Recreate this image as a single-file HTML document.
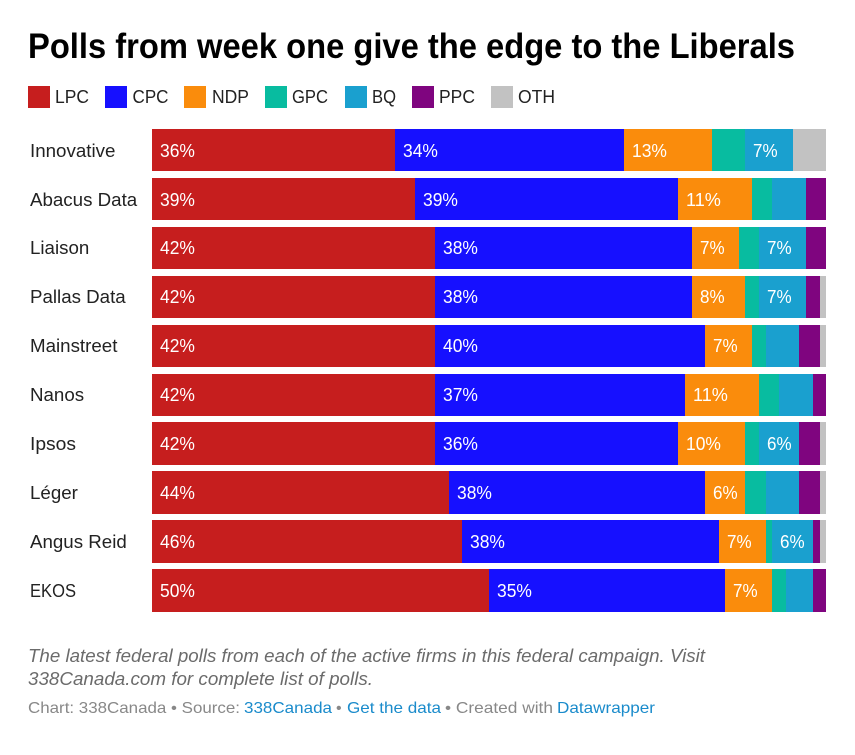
<!DOCTYPE html>
<html lang="en">
<head>
<meta charset="utf-8">
<title>Polls from week one give the edge to the Liberals</title>
<style>
html,body{margin:0;padding:0;background:#fff;width:855px;height:755px;overflow:hidden}
svg{display:block;font-family:"Liberation Sans",sans-serif}
a{cursor:pointer}
</style>
</head>
<body>
<svg id="chart" width="855" height="755" viewBox="0 0 855 755" xmlns="http://www.w3.org/2000/svg">
  <rect width="855" height="755" fill="#fff"/>
  <text x="28" y="58" font-size="35.5" font-weight="700" fill="#000" textLength="767" lengthAdjust="spacingAndGlyphs">Polls from week one give the edge to the Liberals</text>

  <g font-size="18.5" fill="#222">
    <rect x="28" y="86" width="22" height="22" fill="#c61e1e"/>
    <text x="55" y="103" textLength="34" lengthAdjust="spacingAndGlyphs">LPC</text>
    <rect x="105" y="86" width="22" height="22" fill="#1610ff"/>
    <text x="132.5" y="103" textLength="36" lengthAdjust="spacingAndGlyphs">CPC</text>
    <rect x="184" y="86" width="22" height="22" fill="#fa8c0c"/>
    <text x="212" y="103" textLength="37" lengthAdjust="spacingAndGlyphs">NDP</text>
    <rect x="265" y="86" width="22" height="22" fill="#08bca0"/>
    <text x="292" y="103" textLength="36" lengthAdjust="spacingAndGlyphs">GPC</text>
    <rect x="345" y="86" width="22" height="22" fill="#1aa0cf"/>
    <text x="372" y="103" textLength="24" lengthAdjust="spacingAndGlyphs">BQ</text>
    <rect x="412" y="86" width="22" height="22" fill="#7f057f"/>
    <text x="439" y="103" textLength="36" lengthAdjust="spacingAndGlyphs">PPC</text>
    <rect x="491" y="86" width="22" height="22" fill="#c2c2c2"/>
    <text x="518" y="103" textLength="37" lengthAdjust="spacingAndGlyphs">OTH</text>
  </g>

  <g id="rows"></g>

  <g>
    <text x="28" y="662" font-size="18" font-style="italic" fill="#6b6b6b" textLength="677" lengthAdjust="spacingAndGlyphs">The latest federal polls from each of the active firms in this federal campaign. Visit</text>
    <text x="28" y="685" font-size="18" font-style="italic" fill="#6b6b6b" textLength="345" lengthAdjust="spacingAndGlyphs">338Canada.com for complete list of polls.</text>
    <g font-size="16" fill="#888">
      <text x="28" y="713" textLength="212" lengthAdjust="spacingAndGlyphs">Chart: 338Canada • Source:</text>
      <text x="244" y="713" fill="#1a8bcb" textLength="88" lengthAdjust="spacingAndGlyphs">338Canada</text>
      <text x="336" y="713">•</text>
      <text x="347" y="713" fill="#1a8bcb" textLength="94" lengthAdjust="spacingAndGlyphs">Get the data</text>
      <text x="445" y="713" textLength="108" lengthAdjust="spacingAndGlyphs">• Created with</text>
      <text x="557" y="713" fill="#1a8bcb" textLength="98" lengthAdjust="spacingAndGlyphs">Datawrapper</text>
    </g>
  </g>
</svg>
<script>
const firms = ["Innovative", "Abacus Data", "Liaison", "Pallas Data", "Mainstreet", "Nanos", "Ipsos", "Léger", "Angus Reid", "EKOS"];
const seriesNames = ["LPC", "CPC", "NDP", "GPC", "BQ", "PPC", "OTH"];
const lpc = [36, 39, 42, 42, 42, 42, 42, 44, 46, 50];
const cpc = [34, 39, 38, 38, 40, 37, 36, 38, 38, 35];
const ndp = [13, 11, 7, 8, 7, 11, 10, 6, 7, 7];
const gpc = [5, 3, 3, 2, 2, 3, 2, 3, 1, 2];
const bq = [7, 5, 7, 7, 5, 5, 6, 5, 6, 4];
const ppc = [0, 3, 3, 2, 3, 2, 3, 3, 1, 2];
const oth = [5, 0, 0, 1, 1, 0, 1, 1, 1, 0];

const seriesValues = [lpc, cpc, ndp, gpc, bq, ppc, oth];
const seriesColors = ["#c61e1e", "#1610ff", "#fa8c0c", "#08bca0", "#1aa0cf", "#7f057f", "#c2c2c2"];
const SVG_NS = "http://www.w3.org/2000/svg";
const rowsGroup = document.getElementById("rows");

function xScale(v) { return Math.round(152.35 + v * 6.74); }
function yRaw(i) { return 129 + i * 48.9; }
const BAR_HEIGHT = 42.45;
const LABEL_MIN = 6;

function baseline(i) { return Math.round(yRaw(i) + 27.65); }

function nameFit(firm) {
  if (firm === "EKOS") return 0.895;
  if (firm === "Ipsos") return 1.04;
  return 1.012;
}

firms.forEach(function (firm, i) {
  const rowLabel = document.createElementNS(SVG_NS, "text");
  
  
  rowLabel.setAttribute("x", 30);
  rowLabel.setAttribute("y", baseline(i));
  rowLabel.setAttribute("font-size", 18.5);
  rowLabel.setAttribute("fill", "#222");
  rowLabel.textContent = firm;
  rowsGroup.appendChild(rowLabel);
  rowLabel.setAttribute("textLength", (rowLabel.getComputedTextLength() * nameFit(firm)).toFixed(1));
  rowLabel.setAttribute("lengthAdjust", "spacingAndGlyphs");

  const top = Math.round(yRaw(i));
  const bottom = Math.round(yRaw(i) + BAR_HEIGHT);
  let running = 0;
  seriesValues.forEach(function (values, s) {
    const v = values[i];
    if (v > 0) {
      const seg = document.createElementNS(SVG_NS, "rect");
      
      
      seg.setAttribute("x", xScale(running));
      seg.setAttribute("y", top);
      seg.setAttribute("width", xScale(running + v) - xScale(running));
      seg.setAttribute("height", bottom - top);
      seg.setAttribute("fill", seriesColors[s]);
      seg.setAttribute("shape-rendering", "crispEdges");
      const tip = document.createElementNS(SVG_NS, "title");
      tip.textContent = firm + " " + seriesNames[s] + " " + v + "%";
      seg.appendChild(tip);
      rowsGroup.appendChild(seg);

      if (v >= LABEL_MIN) {
        const label = document.createElementNS(SVG_NS, "text");
        const str = v + "%";
        
        
        label.setAttribute("x", xScale(running) + 8);
        label.setAttribute("y", baseline(i));
        label.setAttribute("font-size", 18.5);
        label.setAttribute("fill", "#fff");
        label.setAttribute("textLength", (String(v).length * 10.3 + 14.3).toFixed(1));
        label.setAttribute("lengthAdjust", "spacingAndGlyphs");
        label.textContent = str;
        rowsGroup.appendChild(label);
      }
    }
    running += v;
  });
});
</script>
</body>
</html>
